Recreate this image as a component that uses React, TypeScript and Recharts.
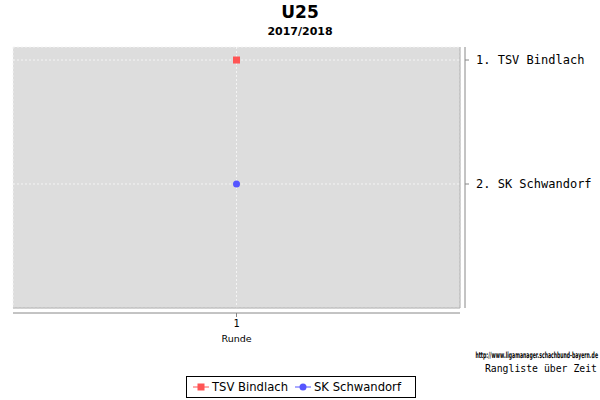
import React from "react";
import {
  LineChart,
  Line,
  XAxis,
  YAxis,
  CartesianGrid,
  Legend,
} from "recharts";

// chart data
const rounds = ["1"];
const teams = ["TSV Bindlach", "SK Schwandorf"];
const bindlachRanks = [1];
const schwandorfRanks = [2];
const rankTicks = [1, 2];

const colors = ["#FF5555", "#5555FF"];
const markers = ["square", "circle"];

const data = rounds.map((r, i) => ({
  round: r,
  bindlach: bindlachRanks[i],
  schwandorf: schwandorfRanks[i],
}));

const FRAME = "#AAAAAA";
const AXIS = "#888888";
const MONO = "'DejaVu Sans Mono', monospace";
const SANS = "'DejaVu Sans', sans-serif";

const squareDot = (p: any) => (
  <rect key={`sq-${p.index}`} x={p.cx - 3.5} y={p.cy - 3.5} width={7} height={7} fill={colors[0]} />
);
const circleDot = (p: any) => (
  <circle key={`ci-${p.index}`} cx={p.cx} cy={p.cy} r={3.5} fill={colors[1]} />
);

const LegendBox = ({ payload }: any) => {
  // keep series order, not alphabetical
  const items = [...(payload || [])].sort(
    (a: any, b: any) => teams.indexOf(a.value) - teams.indexOf(b.value)
  );
  return (
    <div
      style={{
        boxSizing: "border-box",
        border: "1px solid #000",
        height: 22,
        display: "flex",
        alignItems: "center",
        padding: "0 6px",
        fontFamily: SANS,
        fontSize: 11.6,
        color: "#000",
        background: "#fff",
      }}
    >
      {items.map((e: any, i: number) => {
        const k = teams.indexOf(e.value);
        return (
          <span key={e.value} style={{ display: "flex", alignItems: "center", marginRight: i === 0 ? 7 : 0 }}>
            <svg width={16} height={10} style={{ marginRight: 3 }}>
              <line x1={0} y1={5} x2={16} y2={5} stroke={colors[k]} strokeWidth={1} />
              {markers[k] === "square" ? (
                <rect x={4.5} y={1.5} width={7} height={7} fill={colors[k]} />
              ) : (
                <circle cx={8} cy={5} r={3.5} fill={colors[k]} />
              )}
            </svg>
            {e.value}
          </span>
        );
      })}
    </div>
  );
};

export default function App() {
  return (
    <div style={{ position: "absolute", left: 0, top: 0, width: 600, height: 400, background: "#fff" }}>
      <LineChart width={600} height={400} data={data} margin={{ top: 47, right: 0, bottom: 57, left: 13 }}>
        <XAxis xAxisId="frameT" dataKey="round" orientation="top" height={0} tick={false} tickLine={false} axisLine={{ stroke: FRAME }} />
        <YAxis yAxisId="frameL" orientation="left" width={0} tick={false} tickLine={false} axisLine={{ stroke: FRAME }} />
        <YAxis yAxisId="frameR" orientation="right" width={5} tick={false} tickLine={false} axisLine={{ stroke: FRAME }} />
        <XAxis xAxisId="frameB" dataKey="round" orientation="bottom" height={5} tick={false} tickLine={false} axisLine={{ stroke: FRAME }} />
        <XAxis
          xAxisId="main"
          dataKey="round"
          height={30}
          tickSize={4}
          tickMargin={3}
          stroke={AXIS}
          tick={{ fill: "#000", fontFamily: MONO, fontSize: 10 }}
          label={{ value: "Runde", position: "insideBottom", offset: 1, fill: "#000", fontFamily: SANS, fontSize: 9.5 }}
        />
        <YAxis
          yAxisId="rank"
          orientation="right"
          width={135}
          reversed
          type="number"
          domain={[0.895, 3]}
          ticks={rankTicks}
          allowDataOverflow
          tickSize={4}
          tickMargin={7}
          stroke={AXIS}
          tick={{ fill: "#000", fontFamily: MONO, fontSize: 12 }}
          tickFormatter={(v: number) => `${v}. ${teams[v - 1]}`}
        />
        <CartesianGrid
          xAxisId="main"
          yAxisId="rank"
          fill="#DDDDDD"
          fillOpacity={1}
          stroke="#F4F4F4"
          strokeDasharray="2 2"
        />
        <Legend
          verticalAlign="middle"
          align="center"
          layout="horizontal"
          wrapperStyle={{ left: 186, top: 376, width: 230, height: 22 }}
          content={<LegendBox />}
        />
        <Line
          xAxisId="main"
          yAxisId="rank"
          dataKey="bindlach"
          name={teams[0]}
          stroke={colors[0]}
          dot={squareDot}
          activeDot={false}
          isAnimationActive={false}
        />
        <Line
          xAxisId="main"
          yAxisId="rank"
          dataKey="schwandorf"
          name={teams[1]}
          stroke={colors[1]}
          dot={circleDot}
          activeDot={false}
          isAnimationActive={false}
        />
      </LineChart>
      <svg width={600} height={400} style={{ position: "absolute", left: 0, top: 0, pointerEvents: "none" }}>
        <text x={300} y={18} textAnchor="middle" fontFamily={SANS} fontWeight="bold" fontSize={17} fill="#000">
          U25
        </text>
        <text x={300} y={34.5} textAnchor="middle" fontFamily={SANS} fontWeight="bold" fontSize={11} fill="#000">
          2017/2018
        </text>
        <text
          transform="translate(598,358) scale(0.54,1)"
          x={0}
          y={0}
          textAnchor="end"
          fontFamily={SANS}
          fontWeight="bold"
          fontSize={8.5}
          fill="#000"
        >
          http://www.ligamanager.schachbund-bayern.de
        </text>
        <text x={597} y={371.5} textAnchor="end" fontFamily={MONO} fontSize={9.8} fill="#000">
          Rangliste über Zeit
        </text>
      </svg>
    </div>
  );
}
